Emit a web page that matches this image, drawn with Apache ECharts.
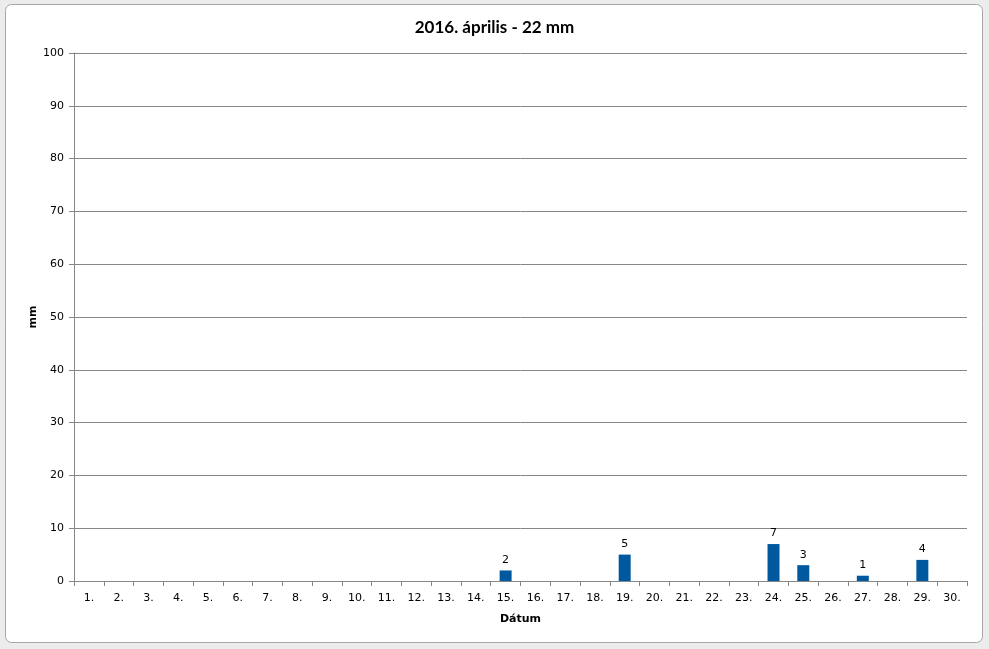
<!DOCTYPE html>
<html>
<head>
<meta charset="utf-8">
<script src="https://cdn.jsdelivr.net/npm/echarts@6/dist/echarts.min.js"></script>
<style>
html,body{margin:0;padding:0;background:#ececec;}
#c{width:989px;height:649px;}
</style>
</head>
<body>
<div id="c"></div>
<script>
const titleText = '2016. április - 22 mm';
const days = ['1.','2.','3.','4.','5.','6.','7.','8.','9.','10.','11.','12.','13.','14.','15.','16.','17.','18.','19.','20.','21.','22.','23.','24.','25.','26.','27.','28.','29.','30.'];
const rain = [0,0,0,0,0,0,0,0,0,0,0,0,0,0,2,0,0,0,5,0,0,0,0,7,3,0,1,0,4,0];
const yTicks = {min:0, max:100, interval:10};

const chart = echarts.init(document.getElementById('c'), null, {renderer:'canvas'});
chart.setOption({
  backgroundColor:'#ececec',
  animation:false,
  graphic:[{
    type:'rect', z:-10,
    shape:{x:5.5,y:4.5,width:977,height:638,r:6},
    style:{fill:'#ffffff',stroke:'#a6a6a6',lineWidth:1}
  }],
  title:{
    text:titleText, left:'center', top:14,
    textStyle:{fontFamily:'Lato', fontWeight:'bold', fontSize:17, color:'#000'}
  },
  grid:{left:74, right:22, top:53, bottom:68},
  xAxis:{
    type:'category', data:days,
    name:'Dátum', nameLocation:'middle', nameGap:33, nameMoveOverlap:false,
    nameTextStyle:{fontFamily:'DejaVu Sans', fontWeight:'bold', fontSize:11, color:'#000'},
    axisLine:{lineStyle:{color:'#868686'}},
    axisTick:{show:true, alignWithLabel:false, length:5, lineStyle:{color:'#868686'}},
    axisLabel:{fontFamily:'DejaVu Sans', fontSize:11, color:'#000', margin:12, interval:0}
  },
  yAxis:{
    type:'value', min:yTicks.min, max:yTicks.max, interval:yTicks.interval,
    name:'mm', nameLocation:'middle', nameGap:35, nameRotate:90, nameMoveOverlap:false,
    nameTextStyle:{fontFamily:'DejaVu Sans', fontWeight:'bold', fontSize:11, color:'#000', padding:[0,0,0,0]},
    axisLine:{show:true, lineStyle:{color:'#868686'}},
    axisTick:{show:true, length:5, lineStyle:{color:'#868686'}},
    splitLine:{lineStyle:{color:'#868686'}},
    axisLabel:{fontFamily:'DejaVu Sans', fontSize:11, color:'#000', margin:10}
  },
  series:[{
    type:'bar', data:rain, barWidth:12,
    itemStyle:{color:'#00599f', borderWidth:0},
    label:{show:true, position:'top', distance:5, fontFamily:'DejaVu Sans', fontSize:11, color:'#000',
      formatter:p=>p.value?String(p.value):''}
  }]
});
</script>
</body>
</html>
